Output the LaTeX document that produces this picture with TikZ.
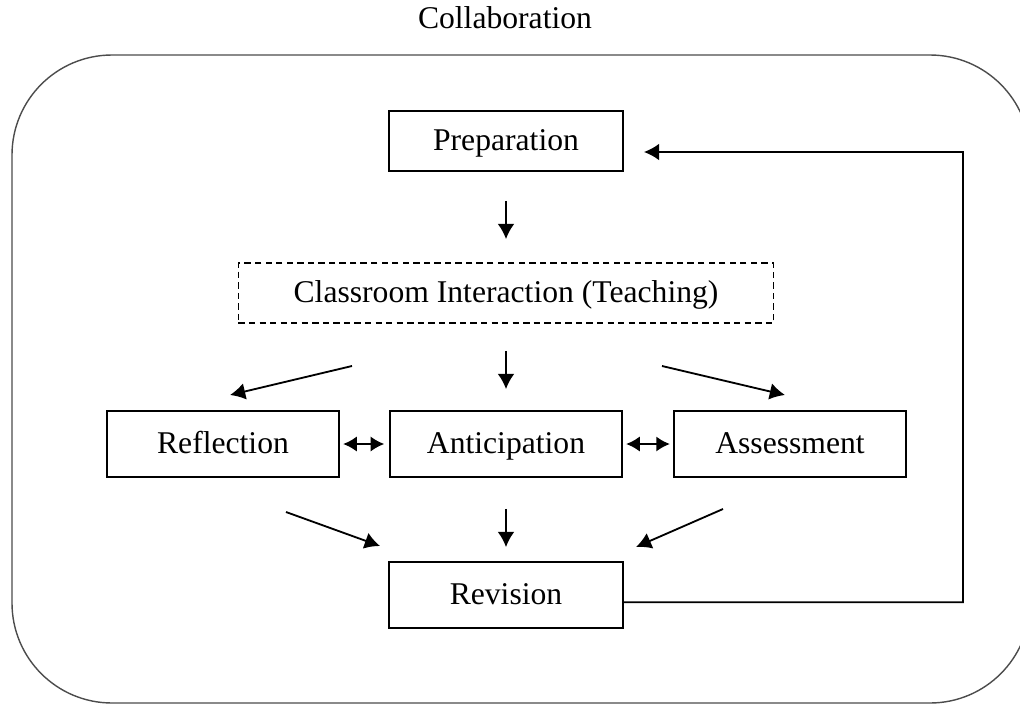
\documentclass[tikz,border=0pt]{standalone}
\usepackage{fontspec}
\setmainfont{Liberation Serif}
\usetikzlibrary{arrows.meta}

\begin{document}
\begin{tikzpicture}[x=0.025cm, y=-0.025cm, line width=1.3pt,
		box/.style = {draw, minimum width=5.85cm, minimum height=1.5cm, text height=17pt, text depth=4pt, font=\fontsize{22.5}{27}\selectfont},
		arr/.style = {-{Latex[length=3.8mm, width=4.2mm]}},
		darr/.style = {{Latex[length=3.4mm, width=3.8mm]}-{Latex[length=3.4mm, width=3.8mm]}}]

		\useasboundingbox (0,0) rectangle (1020,705);
		\draw[black!70, line width=1pt, rounded corners=2.5cm] (12,55) rectangle (1030,703);

		\node[font=\fontsize{22.5}{27}\selectfont] (collab) at (505,18) {Collaboration};

		\node[box] (prep) at (506,141) {Preparation};
		\node[box, dash pattern=on 4.5pt off 3pt, minimum width=13.375cm] (class) at (506,293) {Classroom Interaction (Teaching)};
		\node[box, minimum width=5.8cm, minimum height=1.65cm] (refl) at (223,444) {Reflection};
		\node[box, minimum width=5.8cm, minimum height=1.65cm] (antic) at (506,444) {Anticipation};
		\node[box, minimum width=5.8cm, minimum height=1.65cm] (assess) at (790,444) {Assessment};
		\node[box, minimum height=1.65cm] (rev) at (506,595) {Revision};

		\coordinate (cl1) at (352,366);
		\coordinate (rf1) at (230,395);
		\coordinate (cl2) at (662,366);
		\coordinate (as1) at (785,395);
		\coordinate (rf2) at (286,512);
		\coordinate (rv1) at (380,546);
		\coordinate (as2) at (723,509);
		\coordinate (rv2) at (636,547);

		\draw[arr, shorten <=0.725cm, shorten >=0.575cm] (prep) -- (class);
		\draw[arr, shorten <=0.675cm, shorten >=0.525cm] (class) -- (antic);
		\draw[arr, shorten <=0.775cm, shorten >=0.35cm] (antic) -- (rev);
		\draw[arr] (cl1) -- (rf1);
		\draw[arr] (cl2) -- (as1);
		\draw[arr] (rf2) -- (rv1);
		\draw[arr] (as2) -- (rv2);
		\draw[darr, shorten <=0.08cm, shorten >=0.12cm] (refl) -- (antic);
		\draw[darr, shorten <=0.08cm, shorten >=0.08cm] (antic) -- (assess);
		\draw[arr, shorten >=0.5cm] ([yshift=-0.18cm]rev.east) -| (963,152) -- ([yshift=-0.275cm]prep.east);
	\end{tikzpicture}
\end{document}
